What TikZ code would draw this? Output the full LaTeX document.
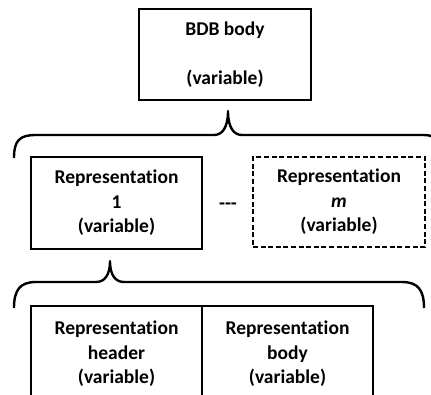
\documentclass[tikz,border=0pt]{standalone}
\usepackage{fontspec}
\setmainfont[Ligatures=NoCommon]{Carlito}
\begin{document}
\begin{tikzpicture}[x=1pt,y=-1pt,
  blk/.style={draw, line width=1.8pt, inner sep=0pt, align=center,
    font=\bfseries\fontsize{19.5}{24.5}\selectfont},
  dashblk/.style={blk, dash pattern=on 5pt off 2.6pt},
  brace/.style={line width=2.4pt, line join=round}]
\useasboundingbox (0,0) rectangle (431,394);
\clip (0,0) rectangle (431,394);

% top level: BDB body
\node[blk, minimum width=172pt, minimum height=91pt] (bdb) at (225,54.5)
  {BDB body\\[24.5pt](variable)};

% representations
\node[blk, minimum width=171pt, minimum height=92pt] (rep1) at (116.5,203)
  {Representation\\1\\(variable)};
\node[dashblk, minimum width=172pt, minimum height=90pt] (repm) at (339,202)
  {Representation\\\textit{m}\\(variable)};
\node[font=\bfseries\fontsize{19.5}{24.5}\selectfont, inner sep=0pt] (dots) at (228,206) {-{}-{}-};

% parts of representation 1 (open at the bottom)
\node[blk, minimum width=171pt, minimum height=96pt] (hdr) at (116.5,354)
  {Representation\\header\\(variable)};
\node[blk, minimum width=171pt, minimum height=96pt] (rbody) at (287.5,354)
  {Representation\\body\\(variable)};

% brace under BDB body
\coordinate (tipA) at (228,111);
\draw[brace] (14,158) .. controls (14,140) and (20,135) .. (36,135)
  -- (214,135) .. controls (222,135) and (228,128) .. (tipA)
  .. controls (228,128) and (234,135) .. (242,135)
  -- (424,135) .. controls (436,135) and (444,142) .. (444,158);

% brace under representation 1
\coordinate (tipB) at (110,261);
\draw[brace] (14,308) .. controls (14,290) and (20,282) .. (36,282)
  -- (96,282) .. controls (104,282) and (110,276) .. (tipB)
  .. controls (110,276) and (116,282) .. (124,282)
  -- (402,282) .. controls (418,282) and (424,290) .. (424,308);
\end{tikzpicture}
\end{document}
